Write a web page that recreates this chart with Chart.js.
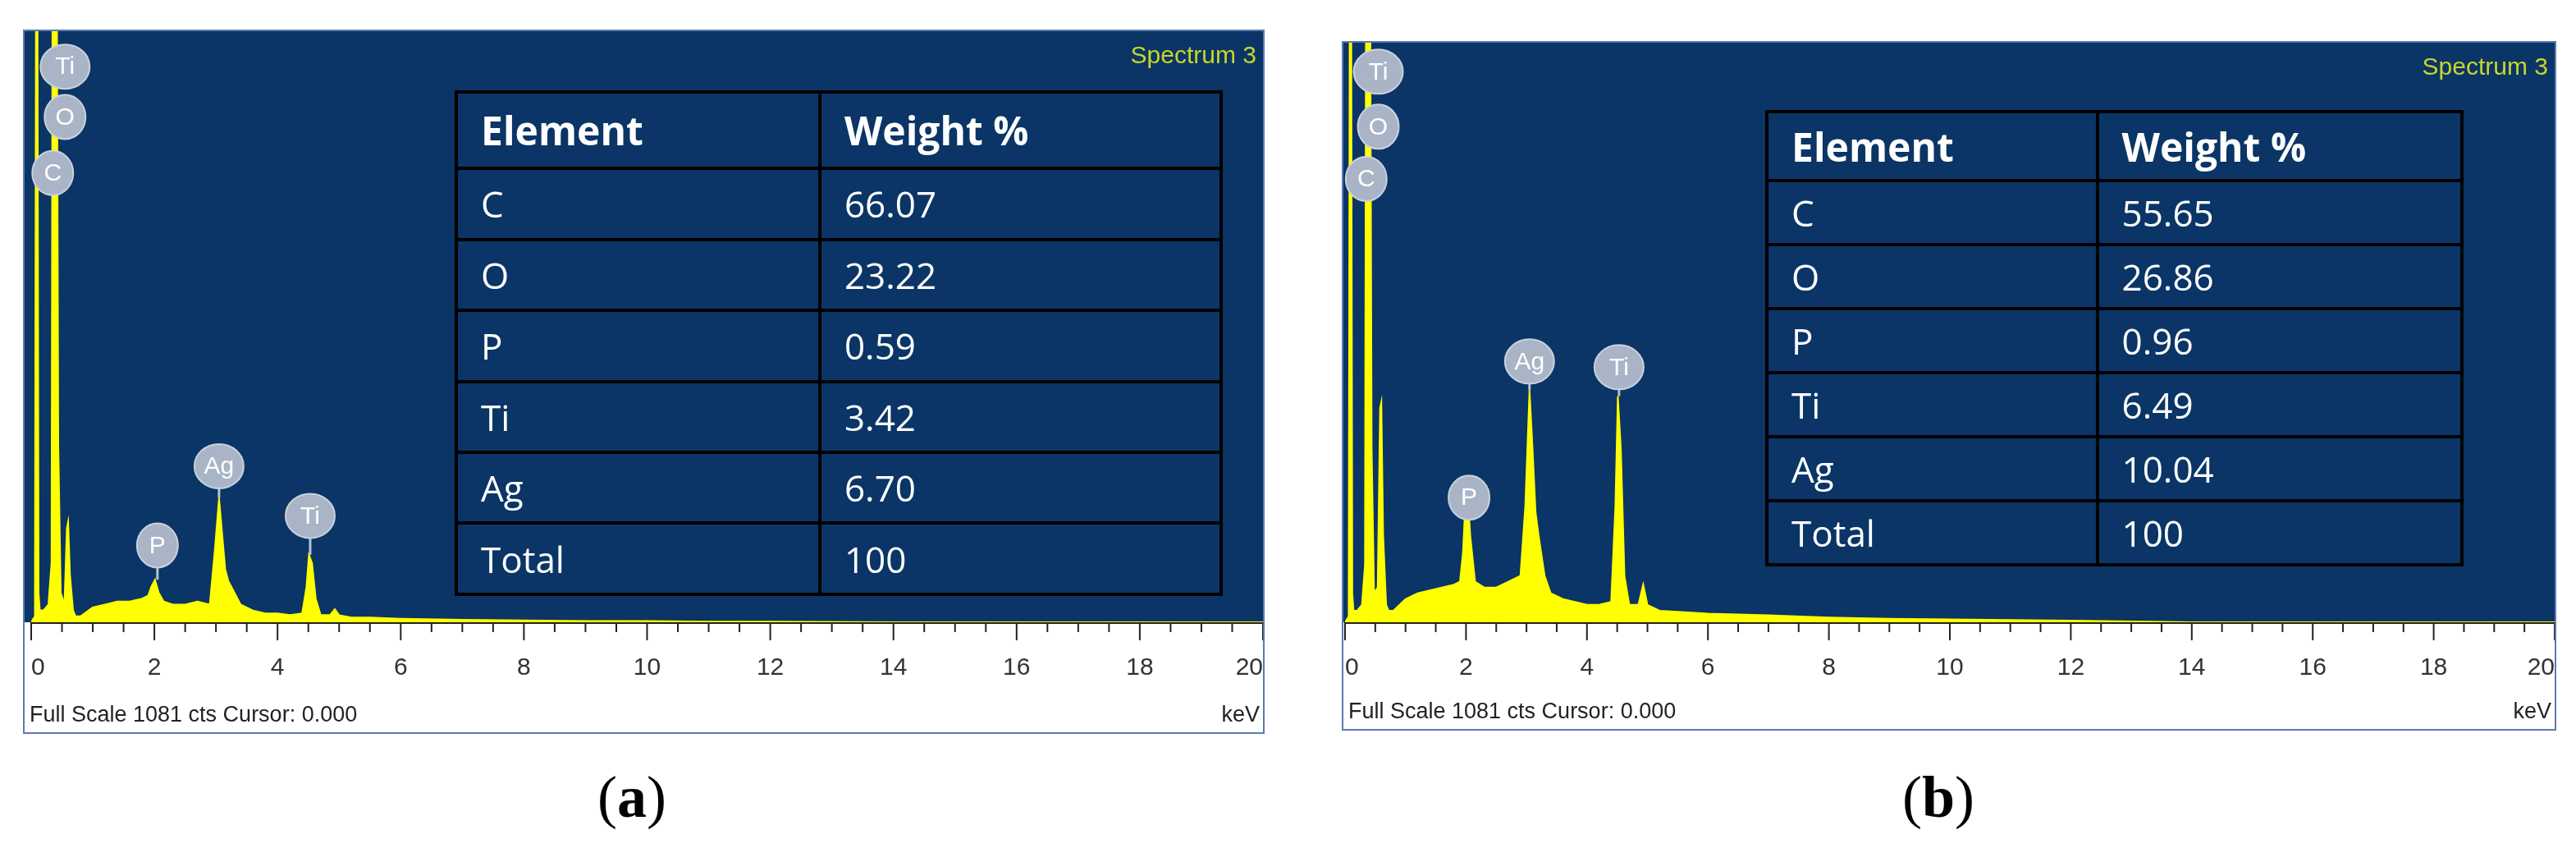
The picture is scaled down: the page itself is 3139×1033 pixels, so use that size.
<!DOCTYPE html>
<html>
<head>
<meta charset="utf-8">
<script src="https://cdn.jsdelivr.net/npm/chart.js@4.4.0/dist/chart.umd.min.js"></script>
<style>
body { margin: 0; background: #fff; width: 3139px; height: 1033px; position: relative; overflow: hidden; }
.panel { position: absolute; border: 2px solid #5a7bb0; box-sizing: border-box; }
.panel canvas { position: absolute; left: 0; top: 0; }
.spec { position: absolute; right: 8px; top: 12px; color: #c8d62a; font: 30px "Liberation Sans Narrow", "Liberation Sans", sans-serif; }
.foot { position: absolute; left: 6px; bottom: 6px; color: #222; font: 27px "Liberation Sans Narrow", "Liberation Sans", sans-serif; }
.kev { position: absolute; right: 4px; bottom: 6px; color: #222; font: 27px "Liberation Sans Narrow", "Liberation Sans", sans-serif; }
table { position: absolute; border-collapse: collapse; color: #fff; font-family: "Open Sans", sans-serif; font-size: 44px; }
td { border: 4px solid #000; padding: 0 28px; text-align: left; }
tr:first-child td { font-weight: bold; font-size: 48px; }
.cap { position: absolute; top: 930px; font: 72px "Liberation Serif", serif; transform: translateX(-50%); }
.cap b { font-weight: bold; }
</style>
</head>
<body>
<div class="panel" id="pa" style="left:28px;top:36px;width:1513px;height:858px;">
  <canvas id="ca" width="1509" height="854"></canvas>
  <div class="spec">Spectrum 3</div>
  <div class="foot">Full Scale 1081 cts Cursor: 0.000</div>
  <div class="kev">keV</div>
  <table id="ta" style="left:524px;top:72px;width:936px;height:616px;"></table>
</div>
<div class="panel" id="pb" style="left:1635px;top:50px;width:1480px;height:840px;">
  <canvas id="cb" width="1476" height="836"></canvas>
  <div class="spec">Spectrum 3</div>
  <div class="foot">Full Scale 1081 cts Cursor: 0.000</div>
  <div class="kev">keV</div>
  <table id="tb" style="left:514px;top:82px;width:851px;height:556px;"></table>
</div>
<div class="cap" style="left:770px;">(<b>a</b>)</div>
<div class="cap" style="left:2362px;">(<b>b</b>)</div>
<script>
// energy axis (keV) shared by both spectra
const energy = [0, 0.06, 0.08, 0.1, 0.12, 0.14, 0.2, 0.28, 0.33, 0.35, 0.38, 0.41, 0.44, 0.48, 0.54, 0.58, 0.6, 0.63, 0.68, 0.72, 0.8,
  1.0, 1.2, 1.4, 1.6, 1.8, 1.9, 1.95, 2.01, 2.07, 2.15, 2.3, 2.5, 2.7, 2.9, 2.98, 3.05, 3.1, 3.15, 3.2,
  3.3, 3.4, 3.6, 3.8, 4.0, 4.2, 4.4, 4.47, 4.51, 4.56, 4.62, 4.7, 4.85, 4.93, 5.0, 5.2, 5.5,
  6, 7, 8, 9, 10, 11, 12, 14, 16, 20];
// counts as fraction of full scale (1081 cts)
const countsA = [0, 0.01, 1.2, 1.2, 0.05, 0.02, 0.02, 0.03, 0.1, 1.3, 1.3, 1.3, 0.3, 0.05, 0.03, 0.16, 0.17, 0.08, 0.02, 0.01, 0.01,
  0.025, 0.03, 0.035, 0.035, 0.04, 0.045, 0.06, 0.072, 0.05, 0.035, 0.03, 0.03, 0.035, 0.03, 0.12, 0.21, 0.15, 0.09, 0.07,
  0.05, 0.03, 0.02, 0.015, 0.015, 0.012, 0.015, 0.06, 0.114, 0.1, 0.04, 0.012, 0.012, 0.022, 0.012, 0.008, 0.008,
  0.006, 0.004, 0.003, 0.002, 0.002, 0.001, 0.001, 0, 0, 0];
const countsB = [0, 0.01, 1.2, 1.2, 0.05, 0.02, 0.02, 0.03, 0.1, 1.3, 1.3, 1.3, 0.3, 0.05, 0.06, 0.37, 0.38, 0.15, 0.03, 0.02, 0.02,
  0.04, 0.05, 0.055, 0.06, 0.065, 0.07, 0.12, 0.25, 0.15, 0.07, 0.06, 0.06, 0.07, 0.08, 0.2, 0.40, 0.3, 0.19, 0.15,
  0.08, 0.05, 0.04, 0.035, 0.03, 0.03, 0.035, 0.2, 0.39, 0.3, 0.08, 0.03, 0.03, 0.065, 0.03, 0.02, 0.018,
  0.015, 0.012, 0.008, 0.006, 0.005, 0.004, 0.003, 0, 0, 0];

// peak markers: element, energy, marker height, peak top
const peaksA = [['Ti', 0.55, 0.94, 1], ['O', 0.55, 0.855, 1], ['C', 0.35, 0.76, 1],
  ['P', 2.05, 0.13, 0.072], ['Ag', 3.05, 0.264, 0.21], ['Ti', 4.53, 0.18, 0.114]];
const peaksB = [['Ti', 0.55, 0.95, 1], ['O', 0.55, 0.855, 1], ['C', 0.35, 0.765, 1],
  ['P', 2.05, 0.215, 0.25], ['Ag', 3.05, 0.45, 0.40], ['Ti', 4.53, 0.44, 0.39]];

const elements = ['C', 'O', 'P', 'Ti', 'Ag', 'Total'];
const weightA = ['66.07', '23.22', '0.59', '3.42', '6.70', '100'];
const weightB = ['55.65', '26.86', '0.96', '6.49', '10.04', '100'];

function fillTable(id, weights) {
    let html = '<tr><td>Element</td><td>Weight %</td></tr>';
    elements.forEach((el, i) => {
        html += `<tr><td>${el}</td><td>${weights[i]}</td></tr>`;
    });
    document.getElementById(id).innerHTML = html;
}

const spectrumPlugin = {
    id: 'spectrum',
    beforeDraw(chart) {
        const ctx = chart.ctx;
        const a = chart.chartArea;
        ctx.save();
        ctx.fillStyle = '#0a3566';
        ctx.fillRect(0, 0, chart.width, a.bottom);
        ctx.fillStyle = '#ffffff';
        ctx.fillRect(0, a.bottom, chart.width, chart.height - a.bottom);
        ctx.restore();
    },
    afterDatasetsDraw(chart, args, opts) {
        const ctx = chart.ctx;
        const x = chart.scales.x, y = chart.scales.y;
        ctx.save();
        opts.peaks.forEach(p => {
            const px = x.getPixelForValue(p[1]);
            const py = y.getPixelForValue(p[2]);
            if (p[3] < 1) {
                ctx.strokeStyle = '#b8c2d0';
                ctx.lineWidth = 3;
                ctx.beginPath();
                ctx.moveTo(px, py + 24);
                ctx.lineTo(px, y.getPixelForValue(p[3]));
                ctx.stroke();
            }
            ctx.fillStyle = '#a9b5c6';
            ctx.strokeStyle = '#c9d1dc';
            ctx.lineWidth = 2;
            ctx.beginPath();
            ctx.ellipse(px, py, p[0].length > 1 ? 30 : 25, 27, 0, 0, Math.PI * 2);
            ctx.fill();
            ctx.stroke();
            ctx.fillStyle = '#ffffff';
            ctx.font = '30px "Liberation Sans Narrow", sans-serif';
            ctx.textAlign = 'center';
            ctx.textBaseline = 'middle';
            ctx.fillText(p[0], px, py + 1);
        });
        ctx.restore();
    },
    afterDraw(chart) {
        const ctx = chart.ctx;
        const x = chart.scales.x;
        const base = chart.chartArea.bottom;
        ctx.save();
        ctx.strokeStyle = '#222';
        ctx.lineWidth = 2;
        for (let v = 0; v <= 20; v += 0.5) {
            const px = x.getPixelForValue(v);
            const len = v % 2 === 0 ? 22 : 12;
            ctx.beginPath();
            ctx.moveTo(px, base);
            ctx.lineTo(px, base + len);
            ctx.stroke();
        }
        ctx.restore();
    }
};

function renderSpectrum(canvasId, counts, peaks, pad) {
    const points = energy.map((e, i) => ({ x: e, y: counts[i] }));
    new Chart(document.getElementById(canvasId), {
        type: 'line',
        data: {
            datasets: [{
                data: points,
                borderColor: '#ffff00',
                backgroundColor: '#ffff00',
                borderWidth: 2,
                fill: 'origin',
                pointRadius: 0,
                tension: 0
            }]
        },
        options: {
            responsive: false,
            animation: false,
            devicePixelRatio: 1,
            layout: { padding: { left: pad[0], right: pad[1], top: 0, bottom: 0 } },
            plugins: {
                legend: { display: false },
                tooltip: { enabled: false },
                spectrum: { peaks: peaks }
            },
            scales: {
                x: {
                    type: 'linear', min: 0, max: 20,
                    grid: { display: false },
                    border: { display: true, color: '#222', width: 3 },
                    afterFit(scale) {
                        scale.height = pad[2];
                        scale.paddingLeft = 0;
                        scale.paddingRight = 0;
                    },
                    ticks: {
                        stepSize: 2, padding: 30, color: '#333', align: 'inner',
                        font: { size: 30, family: '"Liberation Sans Narrow", "Liberation Sans", sans-serif' }
                    }
                },
                y: { min: 0, max: 1, display: false }
            }
        },
        plugins: [spectrumPlugin]
    });
}

fillTable('ta', weightA);
fillTable('tb', weightB);
renderSpectrum('ca', countsA, peaksA, [8, 0, 134]);
renderSpectrum('cb', countsB, peaksB, [2, 0, 130]);
</script>
</body>
</html>
